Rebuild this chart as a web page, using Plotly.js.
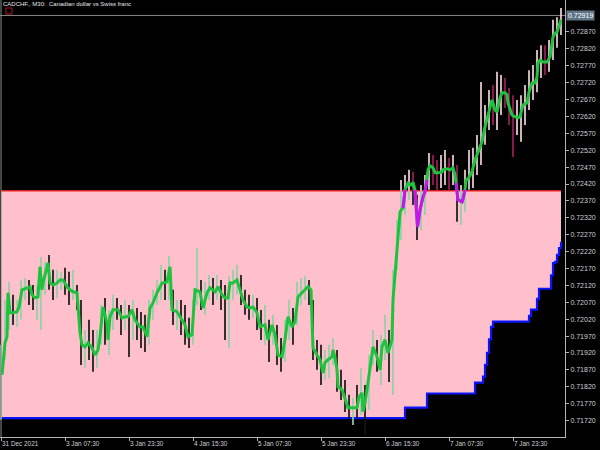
<!DOCTYPE html>
<html><head><meta charset="utf-8">
<script src="https://cdn.plot.ly/plotly-3.0.1.min.js"></script>
<style>html,body{margin:0;padding:0;background:#000;}#chart{width:600px;height:450px;}</style>
</head><body><div id="chart"></div>
<script>
// ---- data (bar index on x, price on y) ----
const chartTitle = 'CADCHF., M30:  Canadian dollar vs Swiss franc';
const level = 0.72400;      // red horizontal level (top of pink zone)
const bidPrice = 0.72919;   // current price line

const xTickIdx = [0, 32, 64, 96, 128, 160, 192, 224, 256];
const xTickText = ['31 Dec 2021', '3 Jan 07:30', '3 Jan 23:30', '4 Jan 15:30', '5 Jan 07:30',
                   '5 Jan 23:30', '6 Jan 15:30', '7 Jan 07:30', '7 Jan 23:30'];
const yTickVals = [0.71720,0.71770,0.71820,0.71870,0.71920,0.71970,0.72020,0.72070,0.72120,0.72170,
                   0.72220,0.72270,0.72320,0.72370,0.72420,0.72470,0.72520,0.72570,0.72620,0.72670,
                   0.72720,0.72770,0.72820,0.72870];

// candles, one every second bar index (0,2,...,280)
const candleOpen = [
 .71737,.71914,.72018,.72077,.72024,.72062,.72101,.72121,.72107,.72077,
 .72077,.72121,.72181,.72130,.72115,.72130,.72142,.72121,.72101,.72107,
 .72018,.71914,.71958,.71944,.71899,.71958,.72053,.71958,.72033,.72062,
 .72047,.72018,.72041,.72024,.72047,.72003,.71988,.71964,.72053,.72083,
 .72107,.72136,.72121,.72107,.72033,.72047,.72018,.71973,.71958,.72092,
 .72112,.72062,.72092,.72115,.72101,.72115,.72092,.72077,.72118,.72127,
 .72121,.72083,.72062,.72047,.72062,.72024,.71988,.72012,.71958,.71988,
 .71923,.71905,.71988,.72024,.72012,.72083,.72101,.72115,.72062,.71929,
 .71905,.71864,.71893,.71908,.71914,.71834,.71805,.71775,.71751,.71763,
 .71751,.71805,.71757,.71876,.71944,.71884,.71935,.71964,.71914,.72172,
 .72260,.72358,.72408,.72432,.72388,.72299,.72373,.72417,.72476,.72462,
 .72447,.72462,.72468,.72456,.72462,.72373,.72379,.72426,.72447,.72476,
 .72506,.72550,.72604,.72654,.72639,.72663,.72692,.72680,.72639,.72616,
 .72610,.72639,.72669,.72704,.72722,.72769,.72793,.72775,.72802,.72861,
 .72876];
const candleHigh = [
 .71944,.72077,.72130,.72092,.72077,.72136,.72142,.72136,.72121,.72121,
 .72204,.72189,.72210,.72166,.72166,.72160,.72172,.72160,.72166,.72121,
 .72077,.71988,.72018,.71988,.71988,.72062,.72083,.72047,.72092,.72083,
 .72062,.72077,.72062,.72077,.72053,.72041,.72033,.72077,.72107,.72136,
 .72181,.72166,.72207,.72107,.72077,.72077,.72062,.72024,.72077,.72231,
 .72136,.72130,.72151,.72142,.72151,.72136,.72121,.72148,.72166,.72181,
 .72151,.72107,.72092,.72092,.72083,.72047,.72062,.72018,.72033,.72003,
 .71964,.72018,.72077,.72053,.72130,.72142,.72148,.72136,.72077,.71958,
 .71944,.71929,.71944,.71964,.71929,.71870,.71840,.71796,.71787,.71825,
 .71876,.71825,.71914,.71988,.71958,.71973,.72033,.71988,.72166,.72314,
 .72432,.72447,.72462,.72456,.72388,.72417,.72447,.72512,.72506,.72491,
 .72506,.72521,.72497,.72506,.72476,.72417,.72462,.72521,.72527,.72565,
 .72722,.72654,.72698,.72713,.72752,.72743,.72734,.72704,.72683,.72669,
 .72683,.72713,.72757,.72772,.72817,.72831,.72831,.72846,.72906,.72914,
 .72941];
const candleLow = [
 .71722,.71899,.71988,.72003,.71997,.72018,.72077,.72062,.72047,.72018,
 .71988,.72092,.72107,.72077,.72083,.72107,.72092,.72062,.72077,.72047,
 .71884,.71876,.71899,.71864,.71876,.71944,.71944,.71914,.71988,.72018,
 .71973,.71988,.71908,.71958,.71958,.71935,.71923,.71944,.72018,.72062,
 .72077,.72077,.72077,.72003,.71988,.71973,.71944,.71935,.71944,.72062,
 .72047,.72033,.72077,.72062,.72077,.72047,.71958,.71935,.72077,.72092,
 .72062,.72033,.72018,.72024,.71988,.71958,.71944,.71893,.71944,.71884,
 .71864,.71893,.71958,.71944,.72003,.72062,.72077,.72062,.71899,.71870,
 .71825,.71840,.71846,.71884,.71805,.71781,.71745,.71722,.71707,.71728,
 .71737,.71680,.71751,.71884,.71864,.71825,.71899,.71834,.71796,.72166,
 .72254,.72328,.72373,.72358,.72254,.72284,.72328,.72403,.72417,.72403,
 .72408,.72417,.72403,.72417,.72308,.72299,.72337,.72403,.72408,.72447,
 .72476,.72536,.72580,.72595,.72580,.72624,.72645,.72595,.72500,.72565,
 .72545,.72595,.72639,.72669,.72692,.72734,.72743,.72752,.72787,.72823,
 .72861];
const candleClose = [
 .71929,.72018,.72077,.72033,.72053,.72107,.72121,.72092,.72077,.72092,
 .72181,.72166,.72130,.72115,.72136,.72142,.72121,.72101,.72107,.72077,
 .71929,.71958,.71923,.71899,.71944,.72047,.71988,.72033,.72062,.72041,
 .72018,.72041,.72018,.72053,.71994,.71982,.71958,.72047,.72083,.72112,
 .72136,.72121,.72189,.72033,.72053,.72012,.71982,.71958,.72077,.72121,
 .72077,.72092,.72121,.72092,.72121,.72083,.72071,.72121,.72136,.72142,
 .72083,.72059,.72047,.72062,.72018,.71988,.72018,.71944,.72003,.71914,
 .71899,.71988,.72033,.71994,.72092,.72107,.72112,.72092,.71929,.71905,
 .71864,.71899,.71908,.71923,.71840,.71805,.71775,.71751,.71766,.71751,
 .71811,.71751,.71870,.71944,.71893,.71929,.71964,.71914,.72107,.72254,
 .72358,.72408,.72432,.72403,.72290,.72373,.72417,.72476,.72462,.72447,
 .72462,.72468,.72456,.72476,.72373,.72379,.72432,.72447,.72476,.72515,
 .72550,.72604,.72654,.72639,.72669,.72692,.72680,.72639,.72616,.72624,
 .72633,.72669,.72704,.72722,.72769,.72793,.72775,.72802,.72861,.72876,
 .72919];
const candleIdx = candleOpen.map((_, k) => 2 * k);

// smoothed indicator line (green; magenta where below the level after the breakout)
const lineIdx = [0.5,2,3,3.5,4.5,6,8,9,10.5,13,14.5,15.5,17,18.5,19.5,20.5,21,23,23.5,24.5,
 26,28,29.5,31,33,34.5,36,38,39.5,40.5,42,43.5,45.5,47,48.5,49.5,51,53,53.5,54.5,
 56,58.5,60.5,62,63.5,65.5,67,69.5,71,73,74.5,76,78,80.5,83,84.5,85.5,88,90.5,92,
 93.5,95.5,97,99.5,101,103,104.5,107,108.5,110.5,112,113.5,114.5,116,118,119.5,121,123,124.5,126,
 128,129.5,132,133.5,135.5,137,138.5,140.5,142,143.5,145.5,147,148.5,151,153.5,155,156,158,159.5,161,
 162,163.5,165.5,166,167,168,168.5,170.5,172,173.5,175.5,178,179,180.5,181,182,183.5,185.5,186,188,
 189.5,190.5,192,193.5,195.5,196,197,198,198.7,199.5,200.5,201,201.5,202,203.5,205.5,206,207,208,208.25,
 209.5,211,212,213,213.5,214.5,216,217,218.5,220.5,221,223,224.5,226,227,227.5,228,228.5,230.5,231,
 232,232.5,233.5,235.5,237,238.5,240.5,242,243.5,245.5,247,248,249.5,250.5,252,253,253.5,255.5,257,258.5,
 259.5,261,263,264,265.5,267,268,268.5,269.5,271,273,274.5,276,277,278,279,280];
const lineVal = [.71855,.71950,.71968,.72098,.72039,.72039,.72042,.72056,.72107,.72113,.72116,.72092,.72083,.72086,.72175,.72107,.72127,.72175,.72187,.72127,
 .72121,.72127,.72136,.72136,.72116,.72107,.72101,.72098,.71980,.71944,.71938,.71950,.71935,.71914,.71929,.71968,.72056,.72009,.71959,.72027,
 .72048,.72048,.72024,.72027,.72027,.72048,.72018,.71997,.71997,.71968,.72053,.72068,.72098,.72127,.72130,.72175,.72048,.72042,.72018,.72003,
 .71968,.71974,.72107,.72101,.72053,.72098,.72113,.72101,.72116,.72092,.72083,.72083,.72127,.72127,.72136,.72107,.72077,.72056,.72053,.72056,
 .72039,.71997,.72003,.71959,.72003,.71974,.71914,.71909,.71959,.72027,.71997,.72012,.72086,.72101,.72116,.72107,.71935,.71914,.71900,.71861,
 .71891,.71900,.71909,.71929,.71906,.71870,.71820,.71811,.71787,.71758,.71758,.71758,.71790,.71802,.71746,.71772,.71832,.71929,.71938,.71909,
 .71870,.71938,.71959,.71920,.71959,.72077,.72157,.72240,.72284,.72337,.72346,.72349,.72373,.72403,.72423,.72417,.72426,.72402,.72323,.72293,
 .72343,.72382,.72397,.72432,.72462,.72474,.72468,.72453,.72453,.72456,.72462,.72465,.72462,.72468,.72447,.72423,.72394,.72373,.72367,.72376,
 .72403,.72432,.72435,.72456,.72491,.72512,.72545,.72589,.72624,.72669,.72639,.72633,.72675,.72690,.72690,.72684,.72660,.72624,.72619,.72616,
 .72619,.72654,.72660,.72692,.72719,.72719,.72737,.72778,.72787,.72781,.72781,.72796,.72855,.72867,.72870,.72885,.72906];

// stepped support line (blue, bottom of pink zone)
const supIdx = [0,202,213,237,240,241,242,243,244,245,246,263,264,265,267,268,269,274,275,276,277,278,279,280];
const supVal = [.71727,.71758,.71800,.71832,.71832,.71850,.71885,.71920,.71960,.71997,.72013,.72013,.72030,.72048,.72048,.72080,.72110,.72110,.72150,.72186,.72190,.72210,.72230,.72249];

// ---- build traces ----
const FONT = 'Liberation Sans, Arial, sans-serif';
const segSets = {pinkBull:{x:[],y:[]}, pinkBear:{x:[],y:[]}, darkBull:{x:[],y:[]}, darkBear:{x:[],y:[]}};
candleIdx.forEach((xi, k) => {
  const lo = candleLow[k], hi = candleHigh[k];
  const bull = candleClose[k] >= candleOpen[k];
  if (hi > level) { const s = bull ? segSets.darkBull : segSets.darkBear;
    s.x.push(xi, xi, null); s.y.push(Math.max(lo, level), hi, null); }
  if (lo < level) { const s = bull ? segSets.pinkBull : segSets.pinkBear;
    s.x.push(xi, xi, null); s.y.push(lo, Math.min(hi, level), null); }
});
const segColors = {pinkBull:'#8fcfaa', pinkBear:'#141414', darkBull:'#f2d3dc', darkBear:'#a01e5e'};

const below = (k) => k >= 0 && k < lineIdx.length && lineIdx[k] >= 201.5 && lineVal[k] < level;
const magVal = lineVal.map((v, k) => (below(k) || below(k - 1) || below(k + 1)) ? v : null);

const xEnd = supIdx[supIdx.length - 1];
const traces = [
  {x:[0, xEnd], y:[level, level], mode:'lines', line:{width:0, color:'rgba(0,0,0,0)'}, hoverinfo:'skip', showlegend:false},
  {x:supIdx, y:supVal, mode:'lines', line:{color:'#0a14ff', width:2.2, shape:'hv'}, fill:'tonexty', fillcolor:'#ffc0cb', showlegend:false},
  {x:[0, xEnd], y:[level, level], mode:'lines', line:{color:'#ff1a1a', width:1.3}, showlegend:false}
];
Object.keys(segSets).forEach(key => traces.push({x:segSets[key].x, y:segSets[key].y, mode:'lines',
  line:{color:segColors[key], width:1.7}, showlegend:false, hoverinfo:'skip'}));
traces.push({x:lineIdx, y:lineVal, mode:'lines', line:{color:'#1ec23c', width:3}, showlegend:false});
traces.push({x:lineIdx, y:magVal, mode:'lines', line:{color:'#c814f0', width:3}, connectgaps:false, showlegend:false});

const layout = {
  width:600, height:450,
  margin:{l:0, r:35, t:0, b:13},
  paper_bgcolor:'#000000', plot_bgcolor:'#000000',
  showlegend:false,
  title:{text:chartTitle, x:0.005, xanchor:'left', xref:'container', y:0.995, yanchor:'top', yref:'container',
         font:{family:FONT, size:6, color:'#e6e6e6'}},
  xaxis:{range:[-0.5, 282], tickvals:xTickIdx, ticktext:xTickText, ticks:'outside', ticklen:3,
         tickcolor:'#b4b4b4', showline:true, linecolor:'#b4b4b4', linewidth:1, showgrid:false, zeroline:false,
         ticklabelposition:'outside right', tickfont:{family:FONT, size:6.4, color:'#d0d0d0'}, fixedrange:true},
  yaxis:{side:'right', range:[0.716712, 0.729647], tickvals:yTickVals, tickformat:'.5f', ticks:'outside', ticklen:3,
         tickcolor:'#b4b4b4', showline:true, linecolor:'#b4b4b4', linewidth:1, showgrid:false, zeroline:false,
         tickfont:{family:FONT, size:7, color:'#d0d0d0'}, fixedrange:true},
  shapes:[
    {type:'line', xref:'paper', x0:0, x1:1, yref:'y', y0:bidPrice, y1:bidPrice, line:{color:'#8a8a8a', width:1}, layer:'below'},
    {type:'line', xref:'paper', x0:0.0018, x1:0.0018, yref:'paper', y0:0, y1:1, line:{color:'#8a8a8a', width:1}, layer:'above'},
    {type:'rect', xref:'paper', x0:0.0106, x1:0.0212, yref:'paper', y0:0.968, y1:0.9817, line:{color:'#b01818', width:1}, fillcolor:'rgba(0,0,0,0)'}
  ],
  annotations:[
    {xref:'paper', x:1, xanchor:'left', xshift:1, yref:'y', y:bidPrice, yanchor:'middle', text:bidPrice.toFixed(5),
     showarrow:false, bgcolor:'#607488', borderpad:1, font:{family:FONT, size:7, color:'#ffffff'}}
  ]
};
Plotly.newPlot('chart', traces, layout, {displayModeBar:false, staticPlot:true});
</script>
</body></html>
